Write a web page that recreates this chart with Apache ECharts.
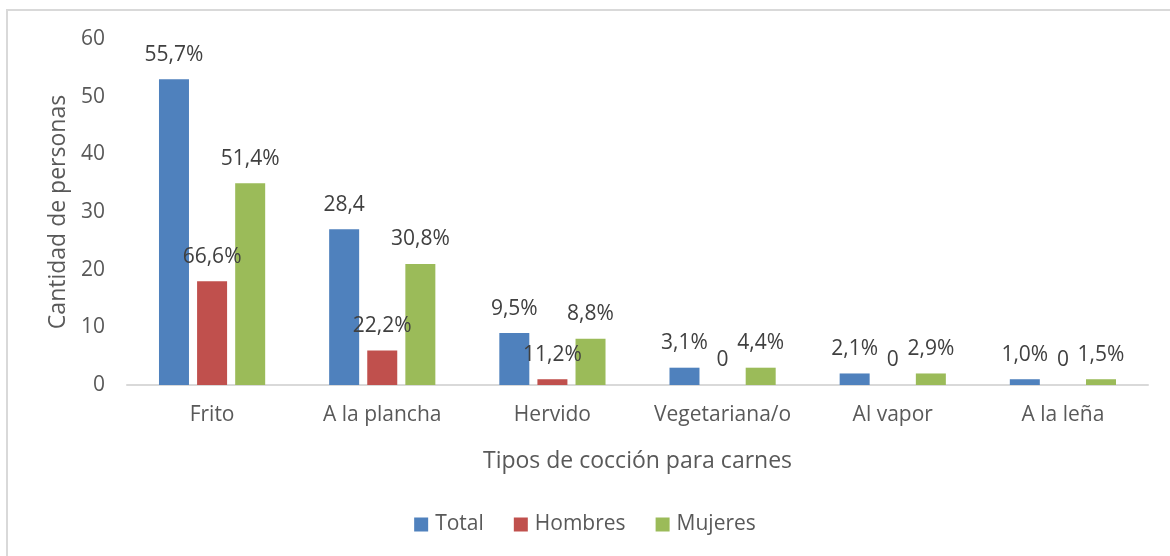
<!DOCTYPE html>
<html>
<head>
<meta charset="utf-8">
<script src="https://cdn.jsdelivr.net/npm/echarts@6/dist/echarts.min.js"></script>
<style>
  html, body { margin: 0; padding: 0; background: #fff; }
  #frame { position: absolute; left: 6px; top: 9px; right: 0; bottom: 0; border-top: 2px solid #d9d9d9; border-left: 2px solid #d9d9d9; }
  #main { position: absolute; left: 0; top: 0; width: 1170px; height: 556px; }
</style>
</head>
<body>
<div id="frame"></div>
<div id="main"></div>
<script type="text/javascript">
// categorias y valores
var categorias = ["Frito", "A la plancha", "Hervido", "Vegetariana/o", "Al vapor", "A la leña"];
var total = [53, 27, 9, 3, 2, 1];
var hombres = [18, 6, 1, 0, 0, 0];
var mujeres = [35, 21, 8, 3, 2, 1];
// etiquetas que muestra cada barra
var etiquetasTotal = ["55,7%", "28,4", "9,5%", "3,1%", "2,1%", "1,0%"];
var etiquetasHombres = ["66,6%", "22,2%", "11,2%", "0", "0", "0"];
var etiquetasMujeres = ["51,4%", "30,8%", "8,8%", "4,4%", "2,9%", "1,5%"];
var ticksY = [0, 10, 20, 30, 40, 50, 60];

var fuente = "Open Sans";

function serie(nombre, datos, etiquetas, color) {
  return {
    name: nombre,
    type: "bar",
    data: datos,
    barWidth: 30,
    barGap: "27%",
    itemStyle: { color: color },
    label: {
      show: true,
      position: "top",
      distance: 14,
      color: "#404040",
      fontFamily: fuente,
      fontSize: 21,
      formatter: function (p) { return etiquetas[p.dataIndex]; }
    }
  };
}

var chart = echarts.init(document.getElementById("main"));
var option = {
  animation: false,
  textStyle: { fontFamily: fuente },
  grid: { left: 127, right: 22, top: 39, bottom: 171 },
  legend: {
    data: ["Total", "Hombres", "Mujeres"],
    bottom: 16,
    left: "center",
    itemWidth: 14,
    itemHeight: 14,
    itemGap: 30,
    icon: "rect",
    textStyle: { color: "#595959", fontSize: 21, fontFamily: fuente, padding: [0, 0, 0, 2] }
  },
  xAxis: {
    type: "category",
    data: categorias,
    name: "Tipos de cocción para carnes",
    nameLocation: "middle",
    nameGap: 65,
    nameTextStyle: { color: "#595959", fontSize: 23, fontFamily: fuente },
    axisLine: { lineStyle: { color: "#d9d9d9", width: 2 } },
    axisTick: { show: false },
    axisLabel: { color: "#595959", fontSize: 21, fontFamily: fuente, margin: 20, interval: 0, hideOverlap: false }
  },
  yAxis: {
    type: "value",
    min: ticksY[0],
    max: ticksY[ticksY.length - 1],
    interval: 10,
    name: "Cantidad de personas",
    nameLocation: "middle",
    nameGap: 56,
    nameTextStyle: { color: "#595959", fontSize: 23, fontFamily: fuente },
    axisLine: { show: false },
    axisTick: { show: false },
    splitLine: { show: false },
    axisLabel: { color: "#595959", fontSize: 21, fontFamily: fuente, margin: 22 }
  },
  series: [
    serie("Total", total, etiquetasTotal, "#4f81bd"),
    serie("Hombres", hombres, etiquetasHombres, "#c0504d"),
    serie("Mujeres", mujeres, etiquetasMujeres, "#9bbb59")
  ]
};
chart.setOption(option);
</script>
</body>
</html>
